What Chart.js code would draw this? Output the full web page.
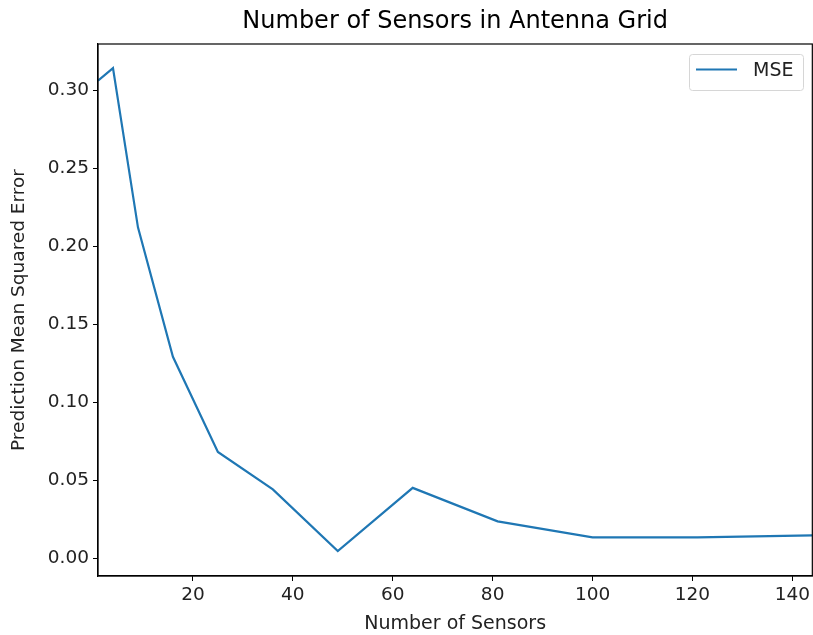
<!DOCTYPE html>
<html>
<head>
<meta charset="utf-8">
<script src="https://cdn.jsdelivr.net/npm/chart.js@4.4.1/dist/chart.umd.min.js"></script>
<style>
  body { margin: 0; background: #fff; }
</style>
</head>
<body>
<canvas id="mseChart" width="813" height="635"></canvas>
<script>
// Number of sensors in the grid (square sizes) and the error for each.
const sensor_counts = [1, 4, 9, 16, 25, 36, 49, 64, 81, 100, 121, 144];
const mse_values = [0.306, 0.314, 0.212, 0.129, 0.068, 0.044, 0.0045, 0.045, 0.0235, 0.0133, 0.0133, 0.0145];
const x_ticks = [20, 40, 60, 80, 100, 120, 140];
const y_ticks = [0, 0.05, 0.10, 0.15, 0.20, 0.25, 0.30];
const series_label = 'MSE';
const chart_title = 'Number of Sensors in Antenna Grid';

const FONT = '"DejaVu Sans", sans-serif';
const LINE_COLOR = '#1f77b4';

// Frame around the plot, the title and a matplotlib-like legend box.
const mplDecor = {
  id: 'mplDecor',
  afterDraw(chart) {
    const ctx = chart.ctx;
    const a = chart.chartArea;
    ctx.save();
    ctx.strokeStyle = '#000';
    ctx.lineWidth = 1.2;
    ctx.strokeRect(a.left, a.top, a.right - a.left, a.bottom - a.top);

    // title
    ctx.fillStyle = '#000';
    ctx.font = '24px ' + FONT;
    ctx.textAlign = 'center';
    ctx.textBaseline = 'middle';
    ctx.fillText(chart_title, (a.left + a.right) / 2, 22);

    // legend
    const bx = 689, by = 54, bw = 114, bh = 36;
    ctx.fillStyle = 'rgba(255,255,255,0.8)';
    ctx.strokeStyle = '#d6d6d6';
    ctx.lineWidth = 1;
    ctx.beginPath();
    ctx.roundRect(bx + 0.5, by + 0.5, bw, bh, 3);
    ctx.fill();
    ctx.stroke();
    ctx.strokeStyle = LINE_COLOR;
    ctx.lineWidth = 2;
    ctx.beginPath();
    ctx.moveTo(696, 69.5);
    ctx.lineTo(737, 69.5);
    ctx.stroke();
    ctx.fillStyle = '#222';
    ctx.font = '19px ' + FONT;
    ctx.textAlign = 'left';
    ctx.fillText(chart.data.datasets[0].label, 753, 71);
    ctx.restore();
  }
};

new Chart(document.getElementById('mseChart'), {
  type: 'line',
  data: {
    datasets: [{
      label: series_label,
      data: sensor_counts.map((x, i) => ({ x: x, y: mse_values[i] })),
      borderColor: LINE_COLOR,
      borderWidth: 2.2,
      pointRadius: 0,
      tension: 0,
      fill: false,
    }],
  },
  options: {
    responsive: false,
    animation: false,
    layout: { padding: { top: 44, right: 0, left: 0, bottom: 0 } },
    plugins: {
      legend: { display: false },
      title: { display: false },
      tooltip: { enabled: false },
    },
    scales: {
      x: {
        type: 'linear',
        min: 1,
        max: 144,
        afterBuildTicks: s => { s.ticks = x_ticks.map(v => ({ value: v })); },
        afterFit: s => { s.height = 59; },
        grid: { drawOnChartArea: false, tickLength: 5, color: '#000' },
        border: { color: '#000', width: 1.2 },
        ticks: { color: '#222', padding: 3, font: { family: FONT, size: 18.5 }, maxRotation: 0 },
        title: { display: true, text: 'Number of Sensors', color: '#222', font: { family: FONT, size: 19 }, padding: 0 },
      },
      y: {
        type: 'linear',
        min: -0.0115,
        max: 0.3295,
        afterBuildTicks: s => { s.ticks = y_ticks.map(v => ({ value: v })); },
        afterFit: s => { s.width = 98; },
        grid: { drawOnChartArea: false, tickLength: 5, color: '#000' },
        border: { color: '#000', width: 1.2 },
        ticks: { color: '#222', padding: 4, font: { family: FONT, size: 18.5 },
          callback: v => v.toFixed(2) },
        title: { display: true, text: 'Prediction Mean Squared Error', color: '#222', font: { family: FONT, size: 18.5 }, padding: { top: 8, bottom: 0 } },
      },
    },
  },
  plugins: [mplDecor],
});
</script>
</body>
</html>
